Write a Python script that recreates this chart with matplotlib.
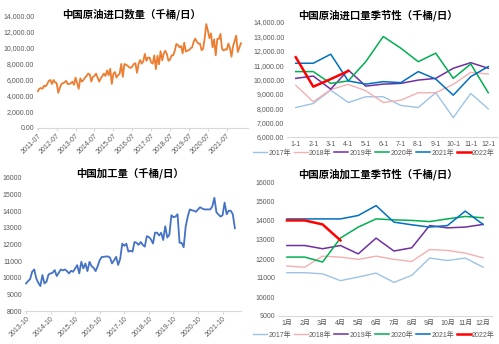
import matplotlib
matplotlib.use("Agg")
import matplotlib.pyplot as plt
from matplotlib.ticker import FuncFormatter
import numpy as np

plt.rcParams['font.family'] = ['Liberation Sans', 'Noto Sans CJK SC', 'DejaVu Sans']

# ---------------- data ----------------
# China crude imports (kb/d), monthly 2011-07 .. 2016-12
imports_early = [4600, 4900, 5000, 4900, 5300, 5200, 5500, 5900, 6000, 5500, 6000, 5700,
                 5600, 4400, 5000, 5500, 5600, 5700, 5900, 5500, 5500, 5600, 5800, 5400,
                 6300, 5600, 4900, 6200, 5800, 6000, 6300, 6500, 6800, 6700, 5800, 6400,
                 6500, 6800, 6300, 5800, 6200, 6500, 6800, 6500, 7200, 6600, 7400, 5500,
                 6800, 7000, 6300, 6600, 6800, 8000, 6400, 8000, 7900, 7800, 7600, 7500,
                 7700, 8000, 8100, 6900, 8000, 8500]
seasonal_years = ['2017年', '2018年', '2019年', '2020年', '2021年', '2022年']
import_months = ['1-1', '2-1', '3-1', '4-1', '5-1', '6-1', '7-1', '8-1', '9-1', '10-1', '11-1', '12-1']
imp_2017 = [8050, 8330, 9260, 8400, 8800, 8800, 8200, 8050, 9080, 7350, 9030, 7960]
imp_2018 = [9600, 8450, 9300, 9660, 9220, 8400, 8560, 9080, 9080, 9660, 10500, 10380]
imp_2019 = [10080, 10240, 9330, 10660, 9540, 9680, 9730, 9960, 10080, 10780, 11170, 10780]
imp_2020 = [10550, 10550, 9730, 9900, 11240, 12990, 12180, 11240, 11830, 10080, 11080, 9080]
imp_2021 = [11130, 11130, 11760, 9900, 9680, 9850, 9780, 10550, 10030, 8910, 10200, 10900]
imp_2022 = [11550, 9500, 10030, 10590]
import_ticks = ['2011-07', '2012-07', '2013-07', '2014-07', '2015-07', '2016-07',
                '2017-07', '2018-07', '2019-07', '2020-07', '2021-07']

# China refinery throughput (kb/d), monthly 2013-10 .. 2016-12
runs_early = [9660, 9800, 9920, 10360, 10500, 9960, 9700, 9500, 10160, 9660, 9760, 10200,
              10260, 10300, 10460, 10100, 10300, 10500, 10440, 10500, 10400, 10260, 10420, 10360,
              10560, 10760, 10260, 10960, 10560, 10860, 10400, 10960, 10700, 10600, 10400, 10700,
              11060, 11250, 11260]
run_months = ['1月', '2月', '3月', '4月', '5月', '6月', '7月', '8月', '9月', '10月', '11月', '12月']
run_2017 = [11280, 11280, 11220, 10860, 11050, 11260, 10770, 11140, 12050, 11920, 12050, 11570]
run_2018 = [11630, 11570, 12150, 12100, 11980, 12150, 11980, 11870, 12500, 12450, 12310, 12060]
run_2019 = [12710, 12710, 12540, 12710, 12270, 13100, 12420, 12590, 13760, 13640, 13680, 13820]
run_2020 = [12100, 12100, 11840, 13100, 13680, 14110, 14060, 14030, 13970, 14110, 14240, 14170]
run_2021 = [14110, 14110, 14110, 14110, 14290, 14810, 13940, 13800, 13680, 13760, 14520, 13820]
run_2022 = [14030, 14030, 13820, 12980]
run_ticks = ['2013-10', '2014-10', '2015-10', '2016-10', '2017-10', '2018-10',
             '2019-10', '2020-10', '2021-10']

# -------------- derived series --------------
imports_series = imports_early + imp_2017 + imp_2018 + imp_2019 + imp_2020 + imp_2021 + imp_2022
runs_series = runs_early + run_2017 + run_2018 + run_2019 + run_2020 + run_2021 + run_2022

imp_seasonal = [imp_2017, imp_2018, imp_2019, imp_2020, imp_2021, imp_2022]
run_seasonal = [run_2017, run_2018, run_2019, run_2020, run_2021, run_2022]
season_colors = ['#9DC3E6', '#F4B0B0', '#7030A0', '#00B050', '#0070C0', '#FF0000']
season_lw = [1.0, 1.0, 1.1, 1.1, 1.1, 1.8]

W, H = 499, 344
fig = plt.figure(figsize=(W / 100, H / 100), dpi=100)

def ax_px(l, t, r, b):
    return fig.add_axes([l / W, 1 - b / H, (r - l) / W, (b - t) / H])

tick_col = '#595959'
spine_col = '#D9D9D9'

def style(ax):
    for s in ['top', 'right', 'left']:
        ax.spines[s].set_visible(False)
    ax.spines['bottom'].set_color(spine_col)
    ax.spines['bottom'].set_linewidth(0.8)
    ax.tick_params(axis='y', length=0, labelsize=5, colors=tick_col, pad=2)
    ax.tick_params(axis='x', length=2, color=spine_col, labelsize=5, colors=tick_col, pad=1)
    ax.patch.set_alpha(0)

def legend_below(ax, y_px):
    leg = ax.legend(loc='center', bbox_to_anchor=(374 / W, 1 - y_px / H), bbox_transform=fig.transFigure,
                    ncol=6, frameon=False, fontsize=5, handlelength=2.0, handletextpad=0.2,
                    columnspacing=0.4, borderpad=0, borderaxespad=0)
    for t in leg.get_texts():
        t.set_color(tick_col)
    return leg

# ---- top-left: import volume time series ----
ax1 = ax_px(37, 16, 248, 128)
style(ax1)
ax1.plot(np.arange(len(imports_series)), imports_series, color='#ED7D31', lw=1.3)
ax1.set_ylim(0, 14000)
ax1.set_yticks(np.arange(0, 14001, 2000))
ax1.yaxis.set_major_formatter(FuncFormatter(lambda v, p: f'{v:,.2f}'))
ax1.set_xlim(-0.5, 133.5)
ax1.set_xticks(np.arange(0, 12 * len(import_ticks), 12))
ax1.set_xticklabels(import_ticks, rotation=45, ha='right', rotation_mode='anchor')
fig.text(132 / W, 1 - 14 / H, '中国原油进口数量（千桶/日）', ha='center', va='center',
         fontsize=7.5, fontweight='bold', family=['Noto Sans CJK SC', 'DejaVu Sans'])

# ---- top-right: import seasonality ----
ax2 = ax_px(287, 22, 497, 137)
style(ax2)
xs = np.arange(len(import_months))
for yr, vals, c, lw in zip(seasonal_years, imp_seasonal, season_colors, season_lw):
    ax2.plot(xs[:len(vals)], vals, color=c, lw=lw, label=yr)
ax2.set_ylim(6000, 14000)
ax2.set_yticks(np.arange(6000, 14001, 1000))
ax2.yaxis.set_major_formatter(FuncFormatter(lambda v, p: f'{v:,.2f}'))
ax2.set_xlim(-0.5, 11.5)
ax2.set_xticks(xs)
ax2.set_xticklabels(import_months)
ax2.tick_params(axis='x', length=0, pad=3)
fig.text(378 / W, 1 - 15 / H, '中国原油进口量季节性（千桶/日）', ha='center', va='center',
         fontsize=7.5, fontweight='bold', family=['Noto Sans CJK SC', 'DejaVu Sans'])
legend_below(ax2, 153)

# ---- bottom-left: refinery throughput time series ----
ax3 = ax_px(25, 178, 241, 311)
style(ax3)
ax3.plot(np.arange(len(runs_series)), runs_series, color='#4472C4', lw=1.3)
ax3.set_ylim(8000, 16000)
ax3.set_yticks(np.arange(8000, 16001, 1000))
ax3.set_xlim(-0.5, 105)
ax3.set_xticks(np.arange(0, 12 * len(run_ticks), 12))
ax3.set_xticklabels(run_ticks, rotation=45, ha='right', rotation_mode='anchor')
fig.text(130 / W, 1 - 173 / H, '中国加工量（千桶/日）', ha='center', va='center',
         fontsize=7.5, fontweight='bold', family=['Noto Sans CJK SC', 'DejaVu Sans'])

# ---- bottom-right: refinery throughput seasonality ----
ax4 = ax_px(278, 183, 492, 316)
style(ax4)
xs = np.arange(len(run_months))
for yr, vals, c, lw in zip(seasonal_years, run_seasonal, season_colors, season_lw):
    ax4.plot(xs[:len(vals)], vals, color=c, lw=lw, label=yr)
ax4.set_ylim(9000, 16000)
ax4.set_yticks(np.arange(9000, 16001, 1000))
ax4.set_xlim(-0.5, 11.5)
ax4.set_xticks(xs)
ax4.set_xticklabels(run_months)
ax4.tick_params(axis='x', length=0, pad=3)
fig.text(378 / W, 1 - 174 / H, '中国原油加工量季节性（千桶/日）', ha='center', va='center',
         fontsize=7.5, fontweight='bold', family=['Noto Sans CJK SC', 'DejaVu Sans'])
legend_below(ax4, 335)

fig.savefig('out.png', dpi=100, facecolor='white')
